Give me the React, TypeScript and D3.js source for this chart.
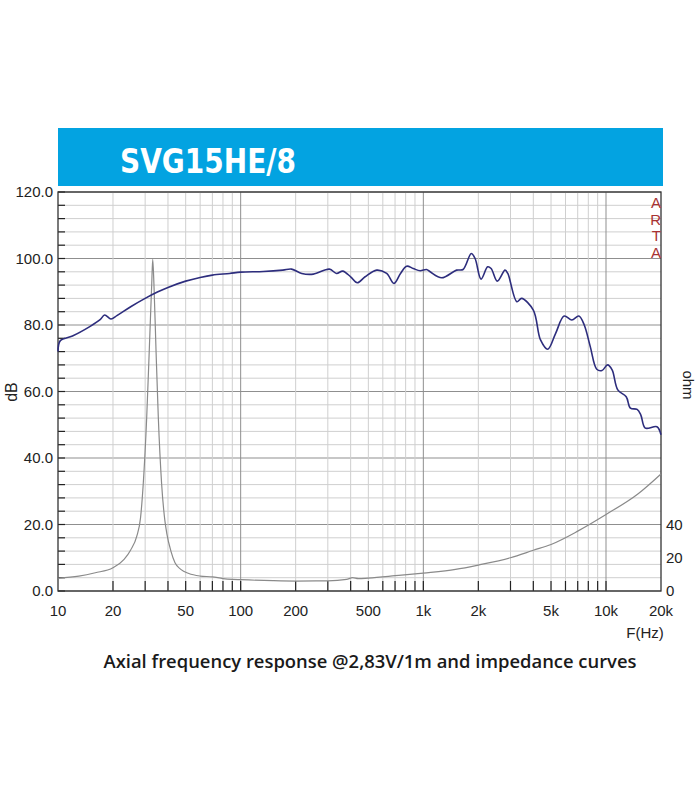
import React from "react";
import * as d3 from "d3";

const frFreq = [10, 10.3, 12, 15, 17, 18, 19.5, 21, 25, 30, 35, 40, 50, 60, 70, 87, 100, 133, 170, 190, 216, 250, 306, 335, 362, 400, 435, 480, 555, 630, 690, 750, 810, 880, 960, 1040, 1090, 1260, 1520, 1650, 1830, 1920, 2070, 2250, 2350, 2540, 2800, 2900, 3250, 3450, 4000, 4380, 4800, 5300, 5900, 6500, 7100, 7600, 8200, 8900, 9500, 10200, 10800, 11600, 12900, 13600, 14800, 15500, 16400, 19000, 20000];
const frDb = [72, 75.3, 76.7, 79.6, 81.6, 83, 81.8, 82.8, 85.5, 88, 89.9, 91.3, 93.2, 94.3, 95, 95.5, 95.9, 96.1, 96.5, 96.8, 95.5, 95.3, 96.8, 95.5, 96.2, 94.5, 92.7, 94.5, 96.5, 95.5, 92.5, 95.5, 97.7, 97, 96.3, 96.7, 96.0, 94.2, 96.5, 96.7, 101.5, 100, 93.8, 97.5, 97.0, 93.2, 96.5, 95.5, 87, 88, 84.5, 75.5, 72.7, 77.5, 82.7, 81.5, 82.7, 80, 73.5, 66.7, 66.3, 68, 66.5, 60.5, 58.4, 55, 54.6, 53, 49, 49.4, 47];

const zFreq = [10, 13, 16, 20, 23, 25, 27, 28.3, 29.3, 30.6, 31.6, 32.6, 33.0, 33.5, 34.4, 35.4, 36.9, 38.5, 39.4, 41.5, 43.7, 47, 52, 60, 70, 80, 90, 100, 150, 200, 300, 380, 410, 440, 500, 700, 1000, 1500, 2000, 3000, 4000, 5000, 7000, 10000, 15000, 20000];
const zOhm = [7.8, 9, 11, 14, 19, 24.7, 33, 44, 64.8, 104.8, 145, 185, 199.5, 185, 145, 104.8, 64.8, 42, 34.7, 24, 17, 13, 10.5, 9, 8.5, 7.5, 7, 6.8, 6.2, 6, 6.1, 7, 8, 7.4, 7.8, 9.2, 10.8, 13, 15.6, 20, 24.5, 28, 36, 46, 58.5, 70.4];

const gridFreqs = [20, 30, 40, 50, 60, 70, 80, 90, 100, 200, 300, 400, 500, 600, 700, 800, 900, 1000, 2000, 3000, 4000, 5000, 6000, 7000, 8000, 9000, 10000];
const majorFreqs = [100, 1000, 10000];
const xTickValues = [10, 20, 50, 100, 200, 500, 1000, 2000, 5000, 10000, 20000];
const xTickLabels = ["10", "20", "50", "100", "200", "500", "1k", "2k", "5k", "10k", "20k"];
const dbTicks = [0, 20, 40, 60, 80, 100, 120];
const ohmTicks = [0, 20, 40];
const artaLetters = ["A", "R", "T", "A"];

export default function App() {
  const L = 58, R = 661, T = 192, B = 591;
  const x = d3.scaleLog().domain([10, 20000]).range([L, R]);
  const y = d3.scaleLinear().domain([0, 120]).range([B, T]);
  const yz = d3.scaleLinear().domain([0, 240]).range([B, T]);
  const minorDb = d3.range(0, 121, 4);

  const frLine = d3.line<number>()
    .x((_, i) => x(frFreq[i]))
    .y((d) => y(d))
    .curve(d3.curveCatmullRom.alpha(0.5));
  const zLine = d3.line<number>()
    .x((_, i) => x(zFreq[i]))
    .y((d) => yz(d))
    .curve(d3.curveMonotoneX);

  const font = "'Liberation Sans', Arial, sans-serif";

  return (
    <svg width={700} height={800} style={{ position: "absolute", left: 0, top: 0, background: "#fff" }}>
      <rect x={0} y={0} width={700} height={800} fill="#fff" />
      {/* header */}
      <rect x={58} y={128} width={605} height={58} fill="#03a3e1" />
      <text x={120} y={173} fill="#fff" fontFamily="'DejaVu Sans Condensed', 'DejaVu Sans', sans-serif" fontWeight="bold" fontSize={33} textLength={176} lengthAdjust="spacingAndGlyphs">SVG15HE/8</text>

      {/* horizontal grid */}
      {minorDb.map((d) => (
        <line key={"h" + d} x1={L} x2={R} y1={y(d)} y2={y(d)} stroke={d % 20 === 0 ? "#8f8f8f" : "#cfcfcf"} strokeWidth={1} />
      ))}
      {/* vertical grid */}
      {gridFreqs.map((f) => (
        <line key={"v" + f} x1={x(f)} x2={x(f)} y1={T} y2={B} stroke={majorFreqs.includes(f) ? "#8f8f8f" : "#cfcfcf"} strokeWidth={1} />
      ))}
      {/* left ticks */}
      {minorDb.map((d) => (
        <line key={"lt" + d} x1={L} x2={L + 7} y1={y(d)} y2={y(d)} stroke="#222" strokeWidth={1.2} />
      ))}
      {/* bottom ticks */}
      {gridFreqs.map((f) => (
        <line key={"bt" + f} x1={x(f)} x2={x(f)} y1={B} y2={B - 10} stroke="#222" strokeWidth={1.2} />
      ))}
      {/* frame */}
      <rect x={L} y={T} width={R - L} height={B - T} fill="none" stroke="#333" strokeWidth={1.3} />

      {/* curves */}
      <path d={zLine(zOhm) || ""} fill="none" stroke="#8a8a8a" strokeWidth={1.2} />
      <path d={frLine(frDb) || ""} fill="none" stroke="#2d2d7d" strokeWidth={1.6} />

      {/* y labels */}
      {dbTicks.map((d) => (
        <text key={"yl" + d} x={53} y={y(d)} dy="0.36em" textAnchor="end" fontFamily={font} fontSize={15} fill="#222">{d.toFixed(1)}</text>
      ))}
      <text transform={`translate(17,392) rotate(-90)`} textAnchor="middle" fontFamily={font} fontSize={16} fill="#222">dB</text>

      {/* right labels */}
      {ohmTicks.map((d) => (
        <text key={"zl" + d} x={666} y={yz(d)} dy="0.36em" fontFamily={font} fontSize={15} fill="#222">{d}</text>
      ))}
      <text transform={`translate(683,385) rotate(90)`} textAnchor="middle" fontFamily={font} fontSize={15} fill="#222">ohm</text>

      {/* x labels */}
      {xTickValues.map((f, i) => (
        <text key={"xl" + f} x={x(f)} y={611} dy="0.36em" textAnchor="middle" fontFamily={font} fontSize={15} fill="#222">{xTickLabels[i]}</text>
      ))}
      <text x={645} y={633} dy="0.36em" textAnchor="middle" fontFamily={font} fontSize={15} fill="#222">F(Hz)</text>

      {/* ARTA */}
      {artaLetters.map((c, i) => (
        <text key={"a" + i} x={661} y={203 + i * 16.5} dy="0.36em" textAnchor="end" fontFamily={font} fontSize={15} fill="#a83232">{c}</text>
      ))}

      {/* caption */}
      <text x={370} y={668} textAnchor="middle" fontFamily="'Open Sans', 'DejaVu Sans', sans-serif" fontWeight={600} fontSize={17.5} fill="#1a1a1a" textLength={533} lengthAdjust="spacingAndGlyphs">Axial frequency response @2,83V/1m and impedance curves</text>
    </svg>
  );
}
